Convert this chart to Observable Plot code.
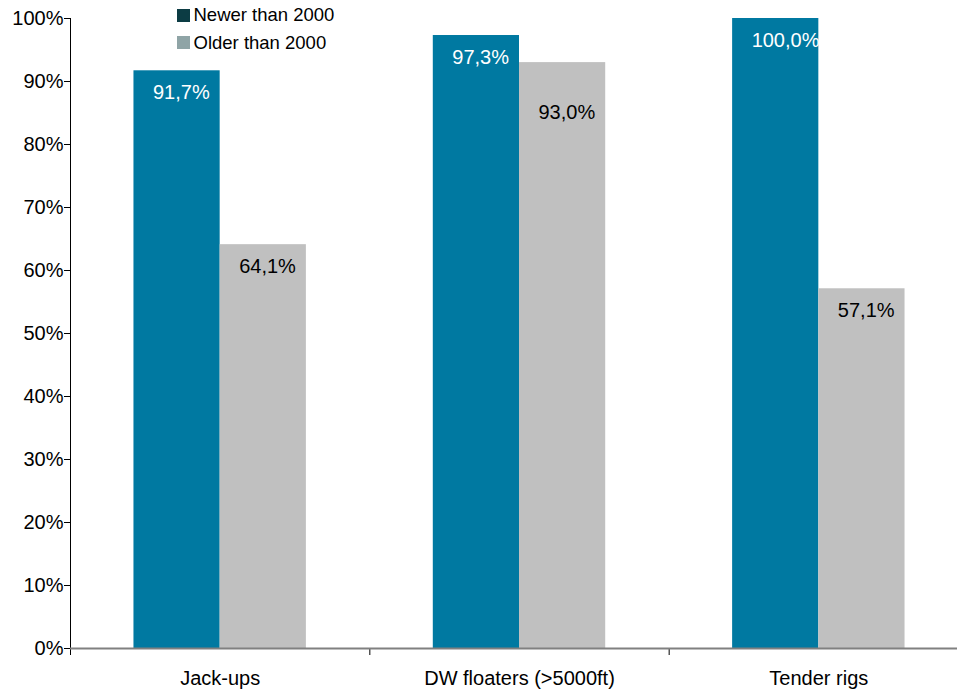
<!DOCTYPE html>
<html>
<head>
<meta charset="utf-8">
<script src="https://cdn.jsdelivr.net/npm/d3@7"></script>
<script src="https://cdn.jsdelivr.net/npm/@observablehq/plot@0.6"></script>
<style>
  html, body { margin: 0; padding: 0; background: #fff; }
  #chart { width: 957px; height: 689px; overflow: hidden; }
  #chart svg { font-family: "Liberation Sans", Arial, sans-serif; max-width: none !important; }
  #chart g[aria-label="y-axis"] { color: #808080; }
  #chart g[aria-label="y-axis"] text { fill: #000; }
  #chart g[aria-label="x-axis"] { color: #808080; }
  #chart g[aria-label="x-axis"] line { stroke-width: 2; }
</style>
</head>
<body>
<div id="chart"></div>
<script>
// Utilisation rates by rig type and build year
const categories = ["Jack-ups", "DW floaters (>5000ft)", "Tender rigs"];
const series = ["Newer than 2000", "Older than 2000"];
const newerValues = [91.7, 97.3, 100.0];
const olderValues = [64.1, 93.0, 57.1];
const yTicks = [0, 10, 20, 30, 40, 50, 60, 70, 80, 90, 100];

const barFill = { "Newer than 2000": "#0079a1", "Older than 2000": "#c0c0c0" };
const labelFill = { "Newer than 2000": "#ffffff", "Older than 2000": "#000000" };
const legendFill = { "Newer than 2000": "#0c3c44", "Older than 2000": "#8fa4a6" };

// Half of a category slot taken by one bar (x is the category index)
const w = 0.288;

const rows = [];
categories.forEach((c, i) => {
  rows.push({ category: c, series: series[0], value: newerValues[i], x1: i - w, x2: i });
  rows.push({ category: c, series: series[1], value: olderValues[i], x1: i, x2: i + w });
});

// An older-series label that would sit beside its neighbour's label is pushed lower
const labelDy = d => {
  if (d.series === series[1]) {
    const newer = newerValues[categories.indexOf(d.category)];
    if (newer - d.value < 6) return 50;
  }
  return 22;
};

const fmt = v => v.toFixed(1).replace(".", ",") + "%";
const fontSize = 20;

const labelMarks = rows.map(d =>
  Plot.text([d], {
    x: "x1", y: "value", text: r => fmt(r.value),
    textAnchor: "start", dx: 19, dy: labelDy(d),
    fill: labelFill[d.series], fontSize
  })
);

const legendMarks = series.flatMap((s, k) => [
  Plot.dot([s], {
    frameAnchor: "top-left", dx: 113, dy: -3 + 27 * k,
    symbol: "square", r: Math.sqrt(169 / Math.PI), fill: legendFill[s], stroke: null
  }),
  Plot.text([s], {
    frameAnchor: "top-left", lineAnchor: "middle", dx: 123, dy: -3 + 28 * k,
    text: d => d, textAnchor: "start", fill: "#000", fontSize: 18.5
  })
]);

const chart = Plot.plot({
  width: 968,
  height: 689,
  marginLeft: 70,
  marginRight: 0,
  marginTop: 18,
  marginBottom: 41,
  style: { fontSize: fontSize + "px", fontFamily: "Liberation Sans, Arial, sans-serif", background: "#fff", maxWidth: "none" },
  x: {
    type: "linear",
    domain: [-0.5, 2.5],
    ticks: [-0.5, 0.5, 1.5, 2.5],
    tickFormat: () => "",
    tickSize: 7,
    label: null
  },
  y: {
    domain: [0, 100],
    ticks: yTicks,
    tickFormat: d => d + "%",
    tickSize: 6,
    tickPadding: 1,
    label: null
  },
  marks: [
    Plot.rectY(rows, { x1: "x1", x2: "x2", y: "value", fill: d => barFill[d.series] }),
    Plot.ruleX([-0.5], { stroke: "#000", strokeWidth: 1 }),
    Plot.ruleY([0], { stroke: "#808080", strokeWidth: 2 }),
    ...labelMarks,
    Plot.text(categories, {
      x: (d, i) => i, frameAnchor: "bottom", lineAnchor: "middle", dy: 30,
      text: d => d, fill: "#000", fontSize
    }),
    ...legendMarks
  ]
});

document.getElementById("chart").appendChild(chart);
</script>
</body>
</html>
